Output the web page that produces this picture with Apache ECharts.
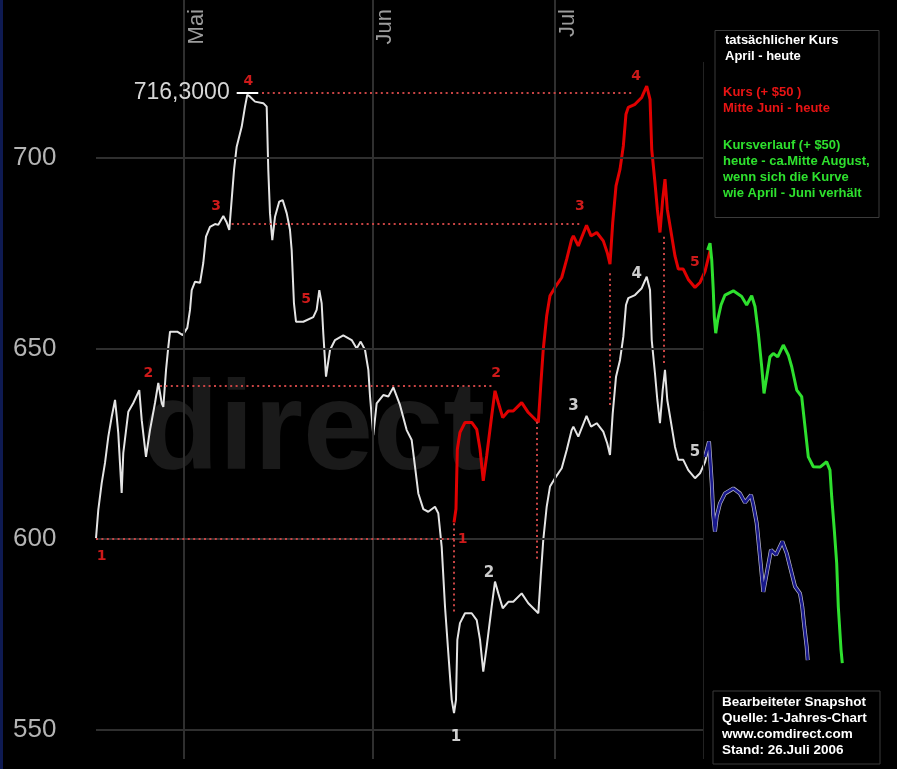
<!DOCTYPE html>
<html>
<head>
<meta charset="utf-8">
<title>Kursverlauf April - Juli 2006</title>
<script src="https://cdn.jsdelivr.net/npm/echarts@6/dist/echarts.min.js"></script>
<style>
  html, body { margin: 0; padding: 0; background: #000; }
  #chart { width: 897px; height: 769px; }
</style>
</head>
<body>
<div id="chart"></div>
<script>
// x = Handelstage seit Chartbeginn (Mitte April), y = Kurs in $
var kurs = [[0,600.3],[0.27,607.7],[0.67,614.7],[1.06,620.0],[1.45,626.9],[1.85,632.1],[2.24,636.5],[2.44,632.1],[2.62,627.8],[3.02,612.1],[3.21,622.6],[3.8,633.4],[4.39,635.7],[5.09,639.1],[5.38,631.2],[5.88,621.6],[6.35,628.6],[6.94,635.7],[7.33,641.0],[7.73,635.7],[7.92,634.7],[8.24,644.4],[8.51,650.5],[8.71,654.4],[9.56,654.4],[10.2,653.5],[10.74,655.4],[11.06,660.1],[11.26,665.3],[11.65,667.5],[12.24,667.2],[12.62,672.4],[12.94,679.3],[13.41,681.9],[14.0,682.6],[14.39,682.4],[14.98,684.7],[15.38,683.0],[15.68,681.1],[16.24,696.8],[16.55,702.9],[17.14,708.1],[17.53,713.4],[17.8,716.5],[18.12,716.0],[18.71,714.7],[19.68,714.3],[20.08,713.4],[20.27,696.8],[20.47,685.4],[20.74,678.4],[21.06,684.5],[21.56,688.5],[21.96,688.9],[22.44,685.4],[22.82,681.1],[23.02,675.8],[23.29,661.8],[23.53,657.0],[24.39,657.0],[25.56,658.2],[25.96,660.1],[26.27,665.3],[26.55,661.8],[26.74,654.0],[27.06,642.6],[27.53,649.6],[28.12,652.2],[29.09,653.4],[30.08,652.2],[30.67,650.0],[31.14,651.8],[31.65,649.6],[32.04,644.4],[32.24,637.4],[32.62,627.3],[33.02,635.6],[33.8,637.8],[34.39,637.4],[34.98,639.8],[35.76,635.2],[36.55,628.6],[37.14,626.0],[37.53,619.0],[37.92,612.0],[38.51,607.9],[39.09,607.2],[39.88,608.5],[40.27,606.8],[40.67,598.0],[41.06,582.3],[41.45,570.1],[41.85,557.9],[42.12,554.4],[42.35,557.9],[42.51,573.6],[42.82,578.0],[43.41,580.6],[44.2,580.6],[44.79,578.8],[45.18,573.6],[45.56,565.3],[45.96,571.8],[46.55,582.3],[46.94,588.9],[47.33,585.8],[47.85,581.9],[48.51,583.6],[49.09,583.6],[50.08,585.8],[50.86,583.2],[52.04,580.6],[52.32,590.2],[52.62,599.8],[53.02,608.5],[53.41,613.8],[54.0,616.0],[54.79,618.6],[55.38,623.4],[55.96,628.6],[56.16,629.5],[56.74,626.9],[57.71,632.3],[58.24,629.5],[58.91,630.4],[59.68,628.2],[60.15,625.1],[60.47,622.1],[60.79,633.0],[61.18,642.6],[61.65,647.0],[62.04,653.1],[62.35,661.4],[62.62,663.2],[63.41,664.0],[64.2,665.8],[64.79,668.8],[65.18,665.3],[65.38,652.2],[65.76,643.5],[66.04,636.5],[66.35,630.4],[66.67,639.1],[66.94,644.4],[67.21,636.5],[67.73,629.5],[68.12,624.2],[68.51,620.8],[69.09,620.8],[69.68,618.1],[70.47,616.0],[71.06,617.3],[71.65,620.2],[72.24,625.6]];

// Kursverlauf (+ $50) heute - ca. Mitte August
var prognose = [[71.96,675.8],[72.24,677.6],[72.44,673.2],[72.62,665.3],[72.74,658.3],[72.91,654.0],[73.14,657.5],[73.53,661.4],[74.0,664.0],[74.98,665.1],[75.96,663.6],[76.55,661.4],[77.14,663.8],[77.53,661.0],[77.92,654.0],[78.32,645.2],[78.59,638.2],[78.91,642.6],[79.29,647.8],[79.68,648.7],[80.2,647.8],[80.86,650.9],[81.45,648.3],[81.85,645.2],[82.44,639.1],[83.02,637.4],[83.41,629.5],[83.8,621.6],[84.39,619.0],[85.18,618.9],[85.96,620.3],[86.35,618.1],[86.55,611.2],[86.86,602.4],[87.14,593.7],[87.33,582.3],[87.65,571.0],[87.8,567.5]];

// gleicher Verlauf ohne Aufschlag
var prognoseOhne = [[71.65,621.6],[72.12,625.6],[72.24,621.6],[72.44,614.7],[72.62,606.4],[72.82,602.0],[73.02,605.9],[73.41,609.4],[74.0,612.0],[74.98,613.3],[75.76,612.0],[76.35,609.6],[77.06,611.6],[77.33,609.0],[77.73,604.2],[78.12,595.4],[78.51,586.2],[78.91,591.1],[79.41,597.2],[80.0,595.9],[80.74,599.4],[81.26,596.3],[81.65,592.8],[82.24,587.6],[82.82,585.8],[83.09,582.3],[83.33,577.1],[83.61,571.8],[83.73,568.3]];

var monate = ['Mai', 'Jun', 'Jul'];
var monatsGrenzen = [10.35, 32.5, 54.0];
var kursTicks = [550, 600, 650, 700];
var heute = 71.45;
var rotAb = 42.12;     // Tief "1" Mitte Juni
var aufschlag = 50;
var hoch = 716.3;

// rote Hilfslinien (gepunktet)
var hilfslinien = [
  [[0, 600], [42.2, 600]],
  [[7.53, 640.3], [46.6, 640.3]],
  [[15.96, 682.6], [56.94, 682.6]],
  [[19.53, 716.9], [63.21, 716.9]],
  [[42.04, 604.2], [42.04, 580.9]],
  [[51.85, 630.8], [51.85, 594.6]],
  [[60.39, 669.7], [60.39, 634.7]],
  [[66.82, 679.3], [66.82, 645.7]]
];

var markenRot = [[0.67,595.4,'1'],[6.15,643.5,'2'],[14.12,687.2,'3'],[17.92,719.9,'4'],[24.71,662.9,'5'],
                 [43.14,600.0,'1'],[47.06,643.5,'2'],[56.94,687.2,'3'],[63.53,721.2,'4'],[70.47,672.5,'5']];
var markenWeiss = [[42.35,548.0,'1'],[46.24,591.1,'2'],[56.16,635.0,'3'],[63.61,669.4,'4'],[70.47,622.8,'5']];

var kursRot = kurs.filter(function (p) { return p[0] >= rotAb; })
                  .map(function (p) { return [p[0], +(p[1] + aufschlag).toFixed(1)]; });

var chart = echarts.init(document.getElementById('chart'));

var gitter = kursTicks.map(function (v) {
  return [{ coord: [0, v] }, { coord: [heute, v] }];
});
monatsGrenzen.forEach(function (m) { gitter.push({ xAxis: m }); });

function txt(id, text, x, y, color, size) {
  return { type: 'text', id: id, z: 51,
           style: { text: text, x: x, y: y, fill: color,
                    font: 'bold ' + size + 'px "Liberation Sans"', verticalAlign: 'middle' } };
}

var option = {
  backgroundColor: '#000',
  animation: false,
  grid: { left: 96, right: 44.5, top: 0, bottom: 10, outerBoundsMode: 'none' },
  xAxis: {
    type: 'value', min: 0, max: 89, position: 'top',
    axisLine: { show: false }, axisTick: { show: false }, splitLine: { show: false },
    axisLabel: { show: false }
  },
  yAxis: {
    type: 'value', min: 542.39, max: 741.34,
    axisLine: { show: false }, axisTick: { show: false }, splitLine: { show: false },
    axisLabel: {
      customValues: kursTicks, align: 'left', margin: 83,
      color: '#b4b4b4', fontSize: 26, fontFamily: 'Liberation Sans'
    }
  },
  graphic: {
    elements: [
      { type: 'rect', id: 'rand', z: -5, shape: { x: 0, y: 0, width: 3, height: 769 }, style: { fill: '#0e1a52' } },
      { type: 'text', id: 'wasserzeichen', z: -5, style: { text: 'direct', x: 142, y: 497, verticalAlign: 'bottom',
          font: 'bold 126px "Liberation Sans"', fill: '#1a1a1a' } },
      { type: 'rect', id: 'box1', z: 50, shape: { x: 715, y: 30.5, width: 164, height: 187 },
        style: { fill: '#000', stroke: '#3a3a3a', lineWidth: 1 } },
      txt('l1', 'tatsächlicher Kurs', 725, 40, '#fff', 13),
      txt('l2', 'April - heute', 725, 56, '#fff', 13),
      txt('l3', 'Kurs (+ $50 )', 723, 92, '#e81414', 13),
      txt('l4', 'Mitte Juni - heute', 723, 108, '#e81414', 13),
      txt('l5', 'Kursverlauf (+ $50)', 723, 145, '#2ee02e', 13),
      txt('l6', 'heute - ca.Mitte August,', 723, 161, '#2ee02e', 13),
      txt('l7', 'wenn sich die Kurve', 723, 177, '#2ee02e', 13),
      txt('l8', 'wie April - Juni verhält', 723, 193, '#2ee02e', 13),
      { type: 'rect', id: 'box2', z: 50, shape: { x: 713, y: 691, width: 167, height: 73 },
        style: { fill: '#000', stroke: '#3a3a3a', lineWidth: 1 } },
      txt('q1', 'Bearbeiteter Snapshot', 722, 702, '#fff', 13.5),
      txt('q2', 'Quelle: 1-Jahres-Chart', 722, 718, '#fff', 13.5),
      txt('q3', 'www.comdirect.com', 722, 734, '#fff', 13.5),
      txt('q4', 'Stand: 26.Juli 2006', 722, 750, '#fff', 13.5)
    ]
  },
  series: [
    {
      name: 'Gitter', type: 'line', data: [], z: 1, silent: true,
      markLine: {
        silent: true, symbol: ['none', 'none'], label: { show: false },
        lineStyle: { color: '#2f2f2f', width: 2, type: 'solid' },
        emphasis: { disabled: true },
        data: gitter.concat([[{ coord: [heute, 725.1], lineStyle: { color: '#222', width: 1 } }, { coord: [heute, 542.39] }]])
      }
    },
    {
      name: 'Hilfslinien', type: 'line', data: [], z: 2, silent: true,
      markLine: {
        silent: true, symbol: ['none', 'none'], label: { show: false },
        lineStyle: { color: '#c84444', width: 2, type: [2, 3.4] },
        emphasis: { disabled: true },
        data: hilfslinien.map(function (l) { return [{ coord: l[0] }, { coord: l[1] }]; })
      }
    },
    {
      name: 'tatsächlicher Kurs', type: 'line', data: kurs, z: 3,
      showSymbol: false, lineStyle: { color: '#e4e4e4', width: 2 },
      markLine: {
        silent: true, symbol: ['none', 'none'],
        lineStyle: { color: '#fff', width: 2, type: 'solid' },
        label: { show: true, position: 'start', distance: 7, color: '#d6d6d6',
                 fontSize: 23, fontFamily: 'Liberation Sans',
                 formatter: hoch.toFixed(4).replace('.', ',') },
        data: [[{ coord: [16.55, 717.0] }, { coord: [19.09, 717.0] }]]
      }
    },
    {
      name: 'Kurs (+ $50)', type: 'line', data: kursRot, z: 4,
      showSymbol: false, lineStyle: { color: '#e00000', width: 3 }
    },
    {
      name: 'Kursverlauf (+ $50)', type: 'line', data: prognose, z: 4,
      showSymbol: false, lineStyle: { color: '#2ee02e', width: 3 }
    },
    {
      name: 'Rand', type: 'line', data: prognoseOhne, z: 4,
      showSymbol: false, lineStyle: { color: '#b8b8c8', width: 4 }
    },
    {
      name: 'Kursverlauf', type: 'line', data: prognoseOhne, z: 5,
      showSymbol: false, lineStyle: { color: '#18188c', width: 2.6 }
    },
    {
      name: 'Marken rot', type: 'scatter', z: 6, symbolSize: 0, silent: true,
      data: markenRot,
      label: { show: true, position: 'inside', color: '#ff2020',
               fontSize: 14, fontWeight: 'bold', fontFamily: 'DejaVu Sans',
               formatter: function (p) { return p.value[2]; } }
    },
    {
      name: 'Marken weiß', type: 'scatter', z: 6, symbolSize: 0, silent: true,
      data: markenWeiss,
      label: { show: true, position: 'inside', color: '#ffffff',
               fontSize: 15, fontWeight: 'bold', fontFamily: 'DejaVu Sans',
               formatter: function (p) { return p.value[2]; } }
    }
  ]
};

chart.setOption(option);

// Monatsnamen senkrecht (von unten nach oben lesbar) rechts neben den Monatslinien
var monatsLabels = monate.map(function (m, i) {
  var px = chart.convertToPixel({ xAxisIndex: 0 }, monatsGrenzen[i]);
  return {
    type: 'text', id: 'monat' + i, z: 10,
    x: px + 2, y: 9, rotation: Math.PI / 2,
    style: { text: m, x: 0, y: 0, align: 'right', verticalAlign: 'top',
             fill: '#9c9c9c', font: '22px "Liberation Sans"' }
  };
});
chart.setOption({ graphic: { elements: monatsLabels } });
</script>
</body>
</html>
